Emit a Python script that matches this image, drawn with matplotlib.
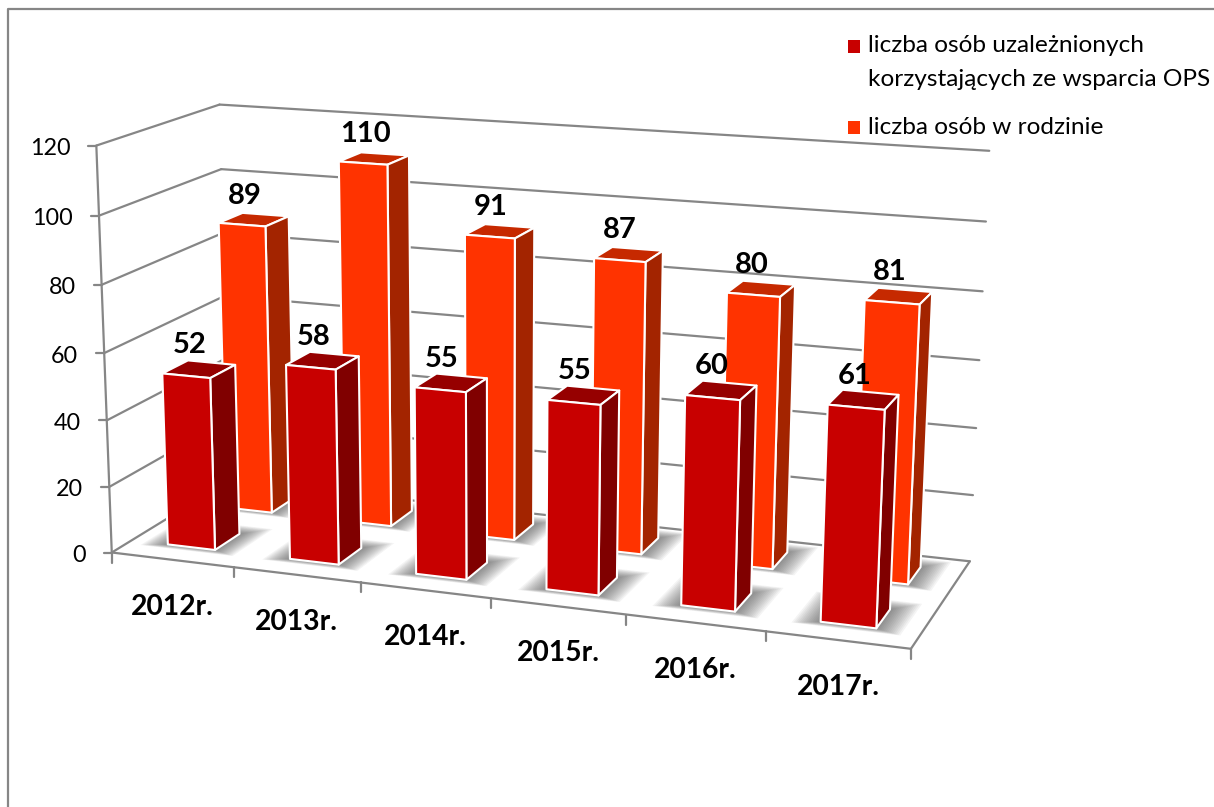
import numpy as np
import matplotlib
matplotlib.use('Agg')
import matplotlib.pyplot as plt
from matplotlib.patches import Polygon, Rectangle

plt.rcParams['font.family'] = ['Lato', 'DejaVu Sans']

years = ['2012r.', '2013r.', '2014r.', '2015r.', '2016r.', '2017r.']
uzaleznieni = [52, 58, 55, 55, 60, 61]
rodzina = [89, 110, 91, 87, 80, 81]
y_ticks = [0, 20, 40, 60, 80, 100, 120]
y_max = 120

GREY = '#868686'

# camera fitted on the box corners seen in the picture: (u, v, w) -> pixel
box = [(0, 0, 0), (1, 0, 0), (1, 1, 0), (0, 1, 0), (0, 0, 1), (1, 1, 1), (0, 1, 1)]
pix = [(113, 551), (911, 650), (970, 560), (228, 482), (95, 146), (989, 151), (221, 104)]
rows = []
for (a, b, c), (px, py) in zip(box, pix):
    rows.append([a, b, c, 1, 0, 0, 0, 0, -px * a, -px * b, -px * c, -px])
    rows.append([0, 0, 0, 0, a, b, c, 1, -py * a, -py * b, -py * c, -py])
P = np.linalg.svd(np.array(rows))[2][-1].reshape(3, 4)


def project(u, v, w):
    h = P @ np.array([u, v, w, 1.0])
    return h[0] / h[2], h[1] / h[2]


fig = plt.figure(figsize=(12.14, 8.07), dpi=100)
ax = fig.add_axes([0, 0, 1, 1])
ax.set_xlim(0, 1214)
ax.set_ylim(807, 0)
ax.axis('off')

# outer frame, only top and left fall inside the picture
ax.plot([8, 8, 1214], [807, 9, 9], color=GREY, lw=1.6, zorder=1)


def line(p, q, z=2):
    ax.plot([p[0], q[0]], [p[1], q[1]], color=GREY, lw=1.6, zorder=z, solid_capstyle='round')


for t in y_ticks:
    w = t / y_max
    p0 = project(0, 0, w)
    p1 = project(0, 1, w)
    p2 = project(1, 1, w)
    line(p0, p1)
    line(p1, p2)
    line((p0[0] - 8, p0[1]), p0)
    ax.text(p0[0] - 26, p0[1] + 3, str(t), ha='right', va='center', fontsize=16.8, color='black', zorder=20)

line(project(0, 0, 0), project(0, 0, 1))
line(project(0, 0, 0), project(1, 0, 0))
line(project(1, 0, 0), project(1, 1, 0))
for i in range(7):
    p = project(i / 6, 0, 0)
    line(p, (p[0], p[1] + 10))

U0, U1 = 0.30, 0.69
RED_V = (0.16, 0.37)
ORANGE_V = (0.66, 0.87)


def shadow(i, vs):
    a, b = (i + U0) / 6, (i + U1) / 6
    for k in range(14, 0, -1):
        du = 0.0022 * k
        front = 0.003 * k
        back = 0.007 * k
        pts = [project(a - du, vs[0] - front, 0), project(b + du, vs[0] - front, 0),
               project(b + du, vs[1] + back, 0), project(a - du, vs[1] + back, 0)]
        ax.add_patch(Polygon(pts, closed=True, fc='#444444', ec='none', alpha=0.06, zorder=3))


def bar(i, val, vs, front, side, top, z):
    a, b = (i + U0) / 6, (i + U1) / 6
    w = val / y_max
    faces = [
        ([project(a, vs[0], w), project(b, vs[0], w), project(b, vs[1], w), project(a, vs[1], w)], top),
        ([project(b, vs[0], 0), project(b, vs[1], 0), project(b, vs[1], w), project(b, vs[0], w)], side),
        ([project(a, vs[0], 0), project(b, vs[0], 0), project(b, vs[0], w), project(a, vs[0], w)], front),
    ]
    for pts, col in faces:
        ax.add_patch(Polygon(pts, closed=True, fc=col, ec='white', lw=1.5, joinstyle='round', zorder=z))
    cx, cy = project((a + b) / 2, (vs[0] + vs[1]) / 2, w)
    ax.text(cx - 9, cy - 24, str(val), ha='center', va='center', fontsize=21, fontweight='bold',
            color='black', zorder=20)


for i in range(6):
    shadow(i, ORANGE_V)
    shadow(i, RED_V)
for i, val in enumerate(rodzina):
    bar(i, val, ORANGE_V, '#FF3300', '#A32400', '#C62900', 5)
for i, val in enumerate(uzaleznieni):
    bar(i, val, RED_V, '#C80000', '#800000', '#960000', 6)

for i, lab in enumerate(years):
    x, y = project((i + 0.5) / 6, 0, 0)
    ax.text(x, y + 47, lab, ha='center', va='center', fontsize=20.3, fontweight='bold', color='black', zorder=20)

# legend
ax.add_patch(Rectangle((848, 40), 12, 13, fc='#C80000', ec='none', zorder=20))
ax.add_patch(Rectangle((848, 121), 12, 13, fc='#FF3300', ec='none', zorder=20))
ax.text(868, 46, 'liczba osób uzależnionych', ha='left', va='center', fontsize=17.6, color='black', zorder=20)
ax.text(868, 79, 'korzystających ze wsparcia OPS', ha='left', va='center', fontsize=17.6, color='black', zorder=20)
ax.text(868, 127, 'liczba osób w rodzinie', ha='left', va='center', fontsize=17.6, color='black', zorder=20)

fig.savefig('out.png', dpi=100)
